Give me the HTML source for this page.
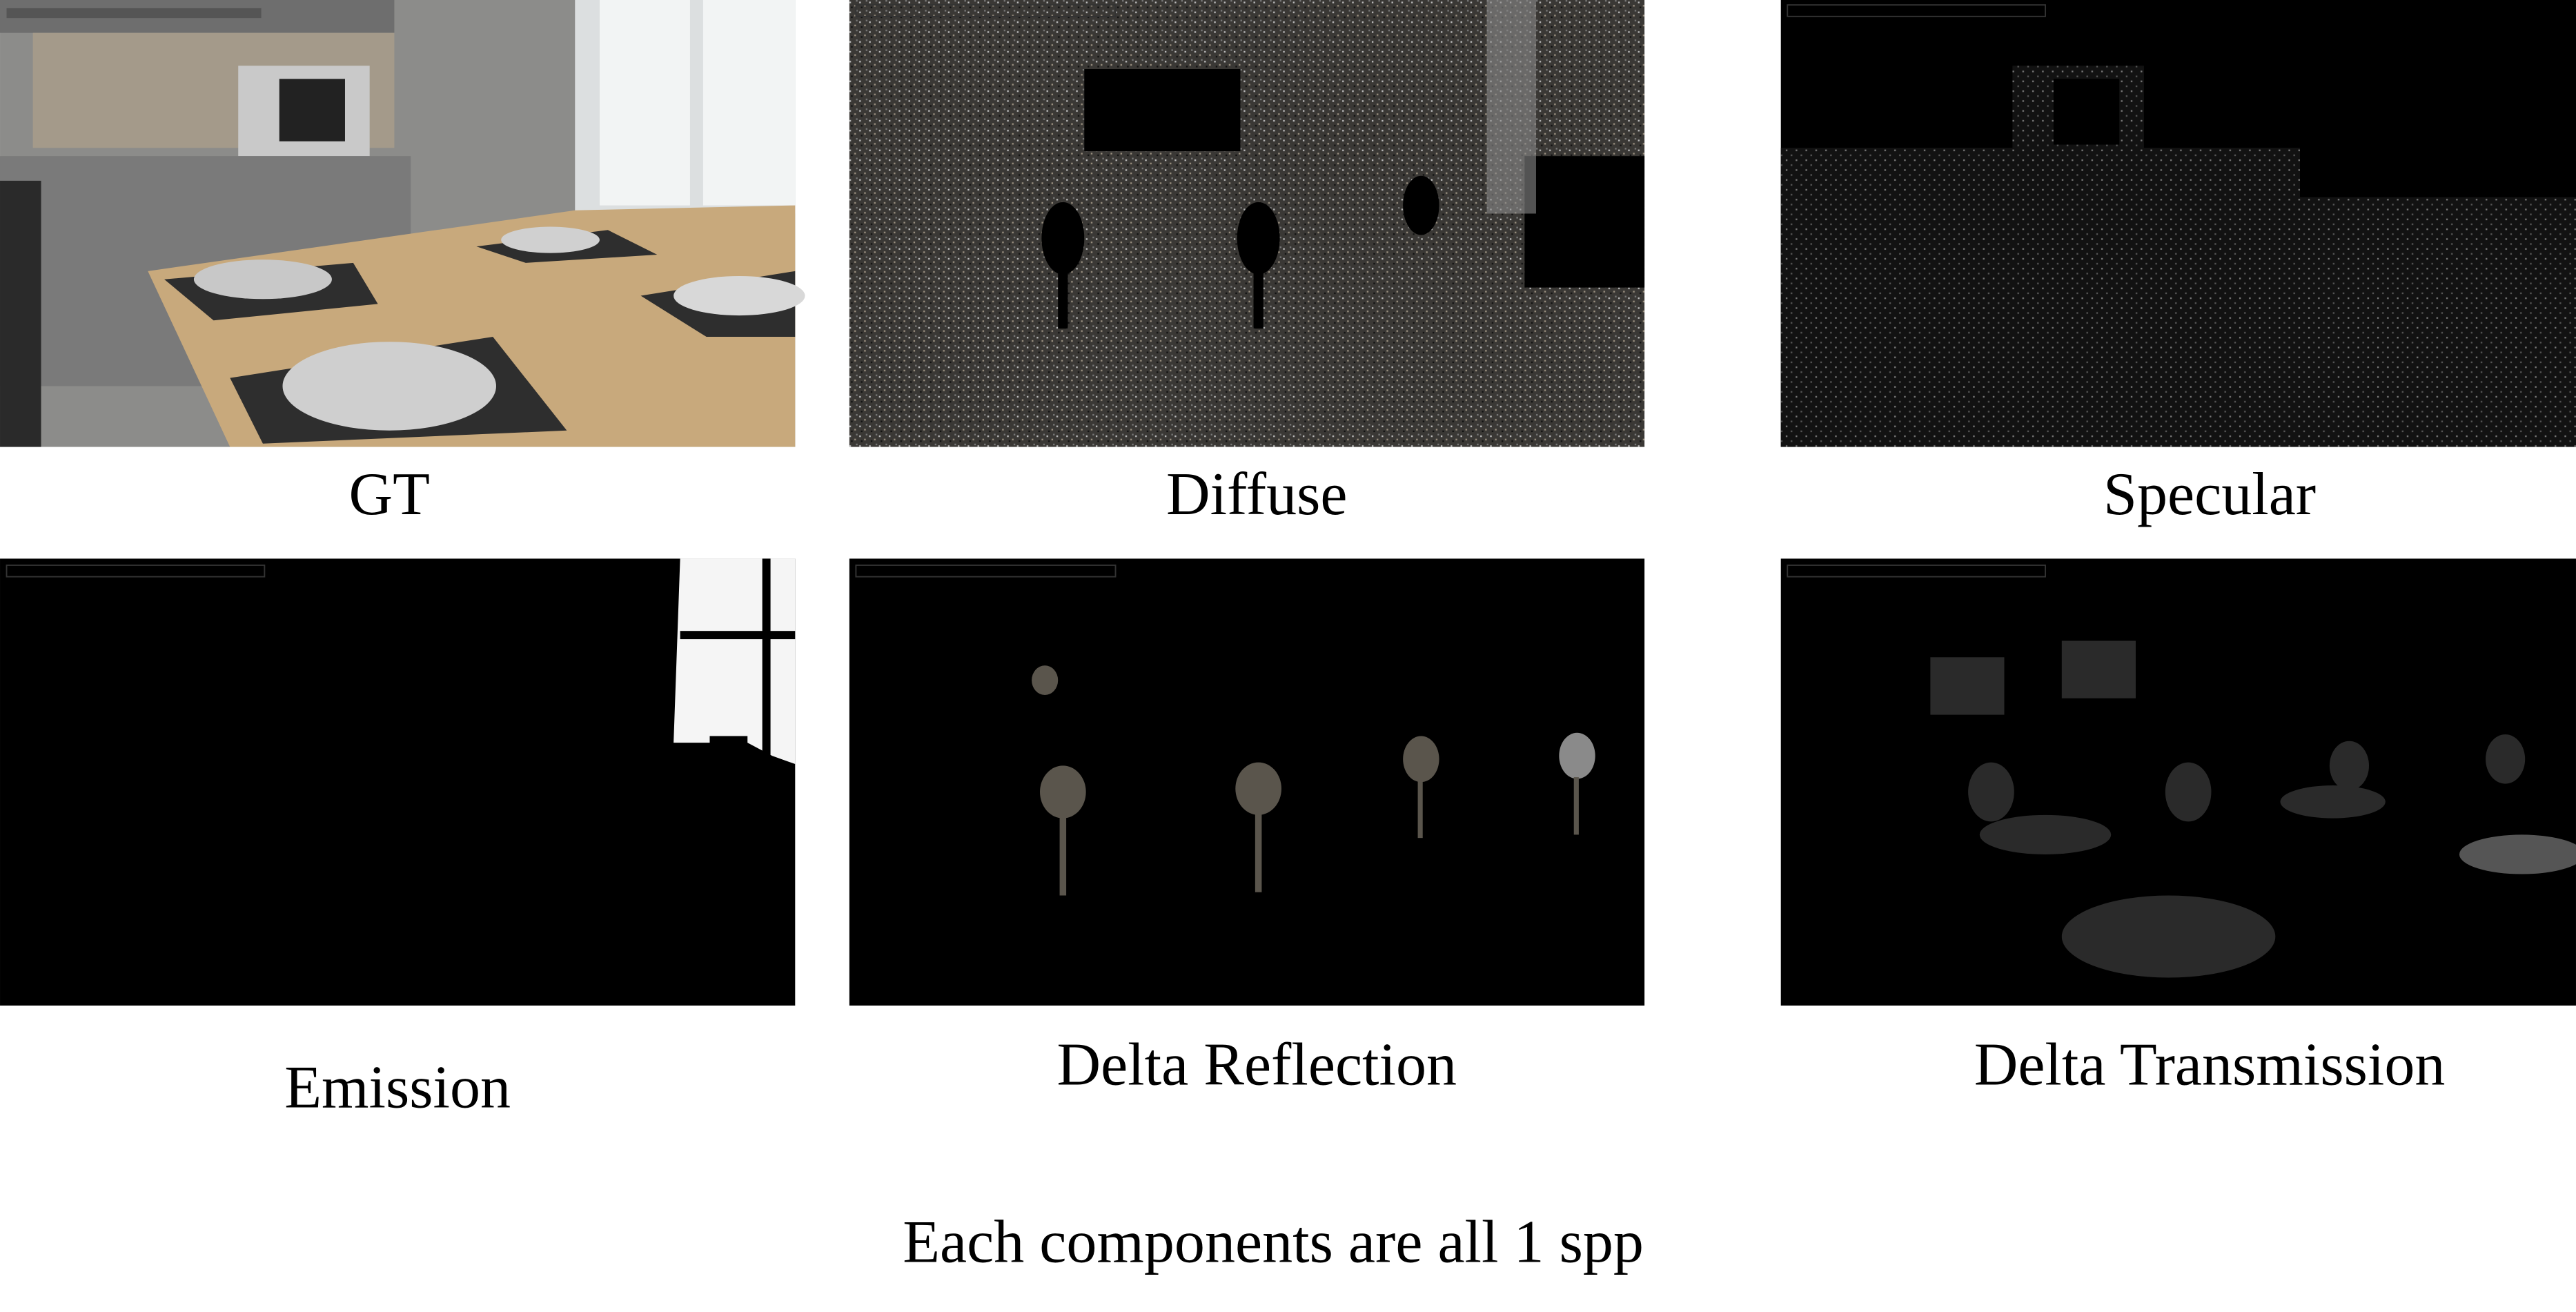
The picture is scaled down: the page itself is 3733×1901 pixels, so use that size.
<!DOCTYPE html>
<html><head><meta charset="utf-8"><style>html,body{margin:0;padding:0;background:#fff;}svg{display:block}</style></head>
<body>
<svg width="3733" height="1901" viewBox="0 0 1568 798.5" xmlns="http://www.w3.org/2000/svg" font-family="Liberation Serif, serif">
<defs>
<pattern id="noise" width="6" height="6" patternUnits="userSpaceOnUse">
<rect width="6" height="6" fill="#3a3835"/><rect x="1" y="1" width="1" height="1" fill="#bbb"/><rect x="4" y="3" width="1" height="1" fill="#9a9080"/><rect x="2" y="4" width="1" height="1" fill="#111"/><rect x="5" y="0" width="1" height="1" fill="#777"/>
</pattern>
<pattern id="noise2" width="6" height="6" patternUnits="userSpaceOnUse">
<rect width="6" height="6" fill="#121212"/><rect x="1" y="1" width="1" height="1" fill="#777"/><rect x="4" y="4" width="1" height="1" fill="#555"/>
</pattern>
</defs>
<!-- GT -->
<g>
<rect x="0" y="0" width="484" height="272" fill="#8c8c8a"/>
<rect x="0" y="0" width="240" height="20" fill="#6e6e6e"/>
<rect x="20" y="20" width="220" height="70" fill="#a49a8a"/>
<rect x="350" y="0" width="134" height="130" fill="#dcdfe0"/>
<rect x="365" y="0" width="55" height="125" fill="#f2f4f4"/>
<rect x="428" y="0" width="56" height="125" fill="#f2f4f4"/>
<rect x="145" y="40" width="80" height="55" fill="#c9c9c9"/><rect x="170" y="48" width="40" height="38" fill="#222"/>
<rect x="0" y="95" width="250" height="140" fill="#7a7a7a"/>
<rect x="0" y="110" width="25" height="162" fill="#2a2a2a"/>
<polygon points="90,165 350,128 484,125 484,272 140,272" fill="#c8a97c"/>
<polygon points="100,170 215,160 230,185 130,195" fill="#2e2e2e"/>
<polygon points="140,230 300,205 345,262 160,270" fill="#2e2e2e"/>
<ellipse cx="237" cy="235" rx="65" ry="27" fill="#cfcfcf"/>
<ellipse cx="160" cy="170" rx="42" ry="12" fill="#c8c8c8"/>
<polygon points="390,180 484,165 484,205 430,205" fill="#2e2e2e"/>
<ellipse cx="450" cy="180" rx="40" ry="12" fill="#d8d8d8"/>
<polygon points="290,150 370,140 400,155 320,160" fill="#2e2e2e"/>
<ellipse cx="335" cy="146" rx="30" ry="8" fill="#d0d0d0"/>
<rect x="4" y="5" width="155" height="6" fill="#555"/>
</g>
<!-- Diffuse -->
<rect x="517" y="0" width="484" height="272" fill="url(#noise)"/>
<rect x="660" y="42" width="95" height="50" fill="#000"/>
<rect x="928" y="95" width="73" height="80" fill="#000"/>
<rect x="905" y="0" width="30" height="130" fill="#8a8a8a" opacity="0.6"/>
<g fill="#000"><ellipse cx="647" cy="145" rx="13" ry="22"/><rect x="644" y="160" width="6" height="40"/><ellipse cx="766" cy="145" rx="13" ry="22"/><rect x="763" y="160" width="6" height="40"/><ellipse cx="865" cy="125" rx="11" ry="18"/><ellipse cx="960" cy="120" rx="11" ry="18"/></g>
<!-- Specular -->
<rect x="1084" y="0" width="484" height="272" fill="#000"/>
<rect x="1084" y="90" width="484" height="182" fill="url(#noise2)"/>
<rect x="1225" y="40" width="80" height="55" fill="url(#noise2)"/>
<rect x="1250" y="48" width="40" height="40" fill="#000"/>
<rect x="1400" y="0" width="168" height="120" fill="#000"/>
<!-- Emission -->
<rect x="0" y="340" width="484" height="272" fill="#000"/>
<polygon points="414,340 484,340 484,465 470,460 455,452 455,448 432,448 432,452 410,452" fill="#f5f5f5"/>
<rect x="464" y="340" width="5" height="125" fill="#000"/>
<rect x="414" y="384" width="70" height="5" fill="#000"/>
<!-- Delta Reflection -->
<rect x="517" y="340" width="484" height="272" fill="#000"/>
<g fill="#5a554c"><ellipse cx="636" cy="414" rx="8" ry="9"/><ellipse cx="647" cy="482" rx="14" ry="16"/><rect x="645" y="495" width="4" height="50"/><ellipse cx="766" cy="480" rx="14" ry="16"/><rect x="764" y="495" width="4" height="48"/><ellipse cx="865" cy="462" rx="11" ry="14"/><rect x="863" y="475" width="3" height="35"/><ellipse cx="960" cy="460" rx="11" ry="14" fill="#8a8a8a"/><rect x="958" y="473" width="3" height="35"/></g>
<!-- Delta Transmission -->
<rect x="1084" y="340" width="484" height="272" fill="#000"/>
<g fill="#2a2a2a"><rect x="1175" y="400" width="45" height="35"/><rect x="1255" y="390" width="45" height="35"/><ellipse cx="1212" cy="482" rx="14" ry="18"/><ellipse cx="1245" cy="508" rx="40" ry="12"/><ellipse cx="1332" cy="482" rx="14" ry="18"/><ellipse cx="1320" cy="570" rx="65" ry="25"/><ellipse cx="1430" cy="466" rx="12" ry="15"/><ellipse cx="1420" cy="488" rx="32" ry="10"/><ellipse cx="1525" cy="462" rx="12" ry="15"/><ellipse cx="1535" cy="520" rx="38" ry="12" fill="#555"/></g>
<!-- small header bars -->
<g fill="none" stroke="#333" stroke-width="0.8"><rect x="4" y="344" width="157" height="7"/><rect x="521" y="344" width="158" height="7"/><rect x="1088" y="344" width="157" height="7"/><rect x="521" y="3" width="158" height="7"/><rect x="1088" y="3" width="157" height="7"/></g>
<g font-size="37" fill="#000" text-anchor="middle">
<text x="237" y="313">GT</text>
<text x="765" y="313">Diffuse</text>
<text x="1345" y="313">Specular</text>
<text x="242" y="674">Emission</text>
<text x="765" y="660">Delta Reflection</text>
<text x="1345" y="660">Delta Transmission</text>
<text x="775" y="768">Each components are all 1 spp</text>
</g>
</svg>
</body></html>
